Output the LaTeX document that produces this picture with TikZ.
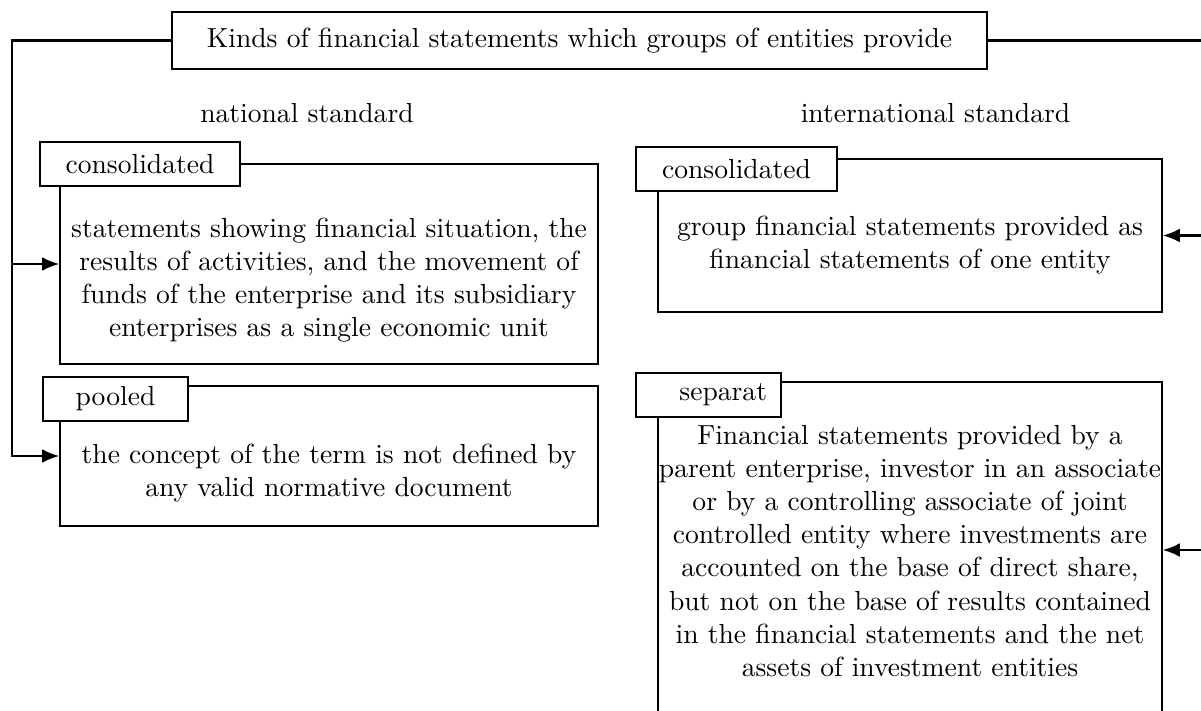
\documentclass[tikz,border=0pt]{standalone}
\usetikzlibrary{arrows.meta,positioning}
\newcommand{\pxu}{0.3624pt}
\tikzset{
  tag/.style={draw, fill=white, line width=0.5pt, minimum height={44*\pxu}, inner sep=0pt},
  body/.style={draw, line width=0.5pt, inner sep=0pt},
  desc/.style={align=center, inner sep=0pt},
  conn/.style={line width=0.8pt, -{Latex[length=6.2pt,width=5pt]}},
}
\begin{document}
\begin{tikzpicture}[x=\pxu, y=-\pxu]
  \useasboundingbox (0,0) rectangle (1201,711);

  \node[draw, line width=0.5pt, minimum width={815*\pxu}, minimum height={57*\pxu}] (title) at (579.5,40.5)
    {Kinds of financial statements which groups of entities provide};

  \node (nathead) at (307,113) {national standard};
  \node (inthead) at (935.5,113) {international standard};

  % national standard
  \node[body, minimum width={538*\pxu}, minimum height={200*\pxu}] (natbody1) at (329,264) {};
  \node[body, minimum width={538*\pxu}, minimum height={140*\pxu}] (natbody2) at (329,456) {};
  \node[tag, minimum width={200*\pxu}] (nattag1) at (140,164) {consolidated};
  \node[tag, minimum width={145*\pxu}] (nattag2) at (115.5,399) {pooled};
  \node[desc] (natdesc1) at (329,280) {statements showing financial situation, the\\
    results of activities, and the movement of\\
    funds of the enterprise and its subsidiary\\
    enterprises as a single economic unit};
  \node[desc] (natdesc2) at (329,473) {the concept of the term is not defined by\\
    any valid normative document};

  % international standard
  \node[body, minimum width={504*\pxu}, minimum height={153*\pxu}] (intbody1) at (910,235.5) {};
  \node[body, minimum width={504*\pxu}, minimum height={336*\pxu}] (intbody2) at (910,550) {};
  \node[tag, minimum width={201*\pxu}] (inttag1) at (736.5,169) {consolidated};
  \node[tag, minimum width={145*\pxu}, text width={117*\pxu}, align=right] (inttag2) at (708.5,395) {separat};
  \node[desc] (intdesc1) at (910,245) {group financial statements provided as\\
    financial statements of one entity};
  \node[desc] (intdesc2) at (910,551) {Financial statements provided by a\\
    parent enterprise, investor in an associate\\
    or by a controlling associate of joint\\
    controlled entity where investments are\\
    accounted on the base of direct share,\\
    but not on the base of results contained\\
    in the financial statements and the net\\
    assets of investment entities};

  % connectors
  \coordinate (lbus) at (12,0);
  \coordinate (rbus) at (1215,0);
  \draw[conn] (title.west) -| (lbus |- natbody2.west) -- (natbody2.west);
  \draw[conn] (lbus |- natbody1.west) -- (natbody1.west);
  \draw[conn] (title.east) -| (rbus |- intbody2.east) -- (intbody2.east);
  \draw[conn] (rbus |- intbody1.east) -- (intbody1.east);
\end{tikzpicture}
\end{document}
